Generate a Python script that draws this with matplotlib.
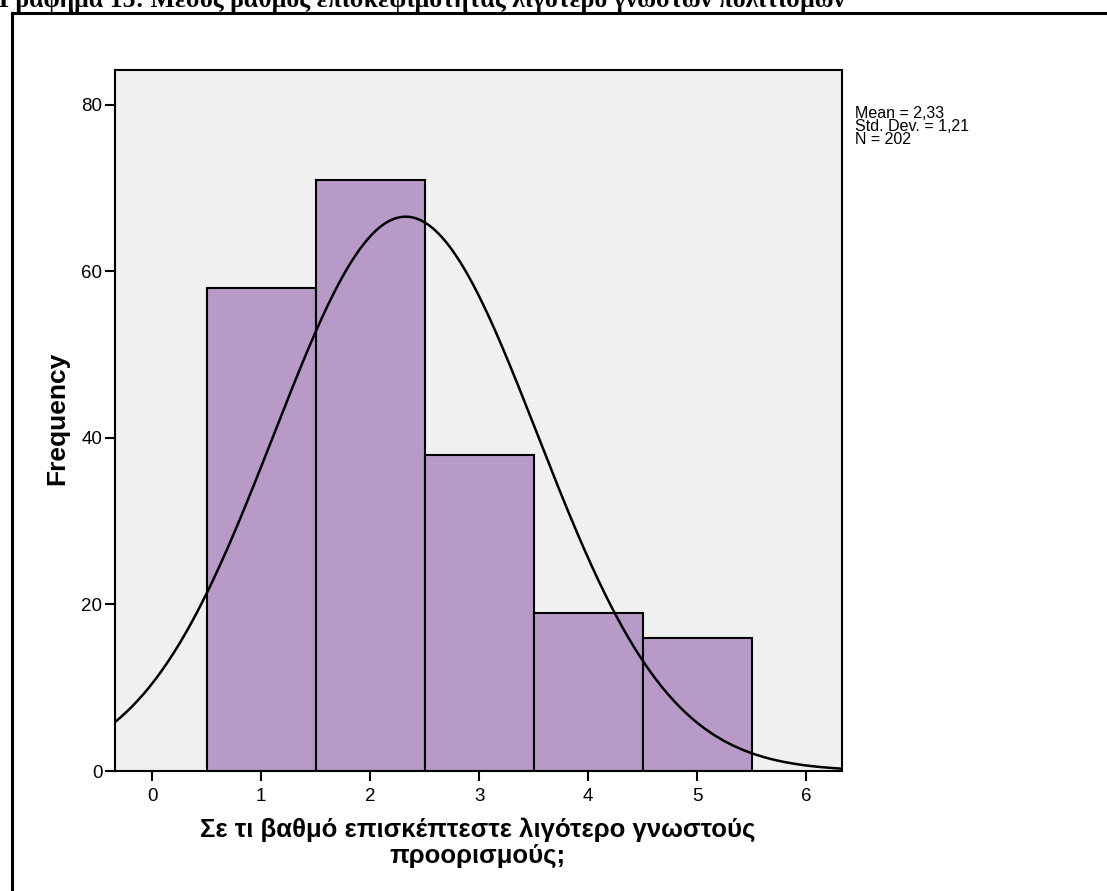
import numpy as np
import matplotlib
matplotlib.use("Agg")
import matplotlib.pyplot as plt
from matplotlib.lines import Line2D

# Data
categories = [1, 2, 3, 4, 5]
frequencies = [58, 71, 38, 19, 16]
x_ticks = [0, 1, 2, 3, 4, 5, 6]
y_ticks = [0, 20, 40, 60, 80]
title_text = "Γράφημα 15: Μέσος βαθμός επισκεψιμότητας λιγότερο γνωστών πολιτισμών"
xlabel_line1 = "Σε τι βαθμό επισκέπτεστε λιγότερο γνωστούς"
xlabel_line2 = "προορισμούς;"
ylabel_text = "Frequency"

W, H = 1107, 891
fig = plt.figure(figsize=(W / 100, H / 100), dpi=100)
fig.patch.set_facecolor("white")

def fx(px):
    return px / W

def fy(py):
    return 1 - py / H

ax = fig.add_axes([fx(115), fy(771), fx(842) - fx(115), fy(70) - fy(771)])
ax.set_facecolor("#f0f0f0")

vals = np.repeat(categories, frequencies)
n = len(vals)
mean = vals.mean()
sd = vals.std(ddof=1)

ax.bar(categories, frequencies, width=1.0, color="#b89ac8", edgecolor="black",
       linewidth=1.5, zorder=2)

xs = np.linspace(-0.34, 6.33, 500)
ys = n * 1.0 / (sd * np.sqrt(2 * np.pi)) * np.exp(-0.5 * ((xs - mean) / sd) ** 2)
ax.plot(xs, ys, color="black", linewidth=1.8, zorder=3)

ax.set_xlim(-0.34, 6.33)
ax.set_ylim(0, 84.2)
ax.set_xticks(x_ticks)
ax.set_yticks(y_ticks)
font = "Liberation Sans"
ax.set_xticklabels([str(t) for t in x_ticks], fontsize=13.5, family=font)
ax.set_yticklabels([str(t) for t in y_ticks], fontsize=13.5, family=font)
ax.tick_params(axis="both", direction="out", length=7, width=1.5, color="black", pad=2)
ax.tick_params(axis="x", pad=5)
for s in ax.spines.values():
    s.set_linewidth(1.5)
    s.set_color("black")

# axis labels
fig.text(fx(478), fy(837), xlabel_line1, ha="center", va="baseline",
         fontsize=18.5, fontweight="bold", family=font)
fig.text(fx(478), fy(863), xlabel_line2, ha="center", va="baseline",
         fontsize=18.5, fontweight="bold", family=font)
fig.text(fx(57), fy(418), ylabel_text, ha="center", va="center", rotation=90,
         fontsize=19, fontweight="bold", family=font)

# stats
stats = ["Mean = " + f"{mean:.2f}".replace(".", ","),
         "Std. Dev. = " + f"{sd:.2f}".replace(".", ","),
         f"N = {n}"]
for i, s in enumerate(stats):
    fig.text(fx(855), fy(118 + i * 13), s, ha="left", va="baseline",
             fontsize=11.5, family=font)

# Title (cut off at top, as in the reference)
fig.text(fx(-1), fy(7), title_text, ha="left", va="baseline",
         fontsize=18.5, fontweight="bold", family="Liberation Serif")

# outer frame
fig.add_artist(Line2D([fx(12), fx(1107)], [fy(13), fy(13)], color="black",
                      linewidth=2.2, transform=fig.transFigure))
fig.add_artist(Line2D([fx(12), fx(12)], [fy(13), fy(891)], color="black",
                      linewidth=2.2, transform=fig.transFigure))

fig.savefig("out.png", dpi=100)
